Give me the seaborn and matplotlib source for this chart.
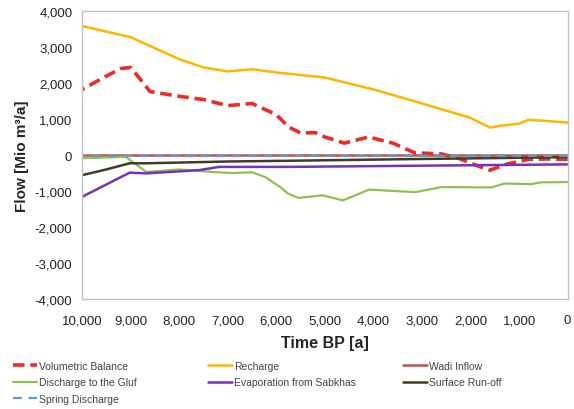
import pandas as pd
import matplotlib
matplotlib.use("Agg")
import matplotlib.pyplot as plt
import seaborn as sns
from matplotlib.ticker import FuncFormatter, MultipleLocator

# ------------------------------------------------
# Data
# ------------------------------------------------

t_vb = [10000, 9500, 9200, 9000, 8800, 8600, 8000, 7500, 7000, 6500, 6000, 5750, 5500,
        5200, 5000, 4600, 4100, 3600, 3150, 2600, 2250, 1800, 1600, 1250, 800, 400, 0]
vb = [1820, 2190, 2400, 2430, 2100, 1760, 1630, 1540, 1370, 1430, 1120, 780, 610,
      620, 500, 330, 500, 330, 60, 30, -90, -330, -420, -250, -120, -110, -120]

t_rc = [10000, 9000, 8000, 7500, 7000, 6500, 6000, 5000, 4000, 3000, 2000,
        1600, 1400, 1000, 800, 500, 0]
rc = [3580, 3270, 2660, 2430, 2320, 2380, 2290, 2150, 1820, 1430, 1030,
      760, 810, 870, 980, 950, 900]

t_wi = [10000, 5000, 0]
wi = [10, 10, 10]

t_dg = [10000, 9100, 8960, 8680, 8000, 7320, 6920, 6500, 6230, 5920, 5760, 5550,
        5040, 4630, 4090, 3140, 2590, 1570, 1300, 760, 550, 0]
dg = [-90, -50, -190, -470, -400, -470, -500, -480, -610, -890, -1070, -1190,
      -1120, -1260, -960, -1030, -890, -900, -790, -810, -760, -750]

t_ev = [10000, 9020, 8680, 7590, 7180, 5760, 0]
ev = [-1160, -490, -510, -420, -330, -330, -260]

t_sr = [10000, 9500, 9020, 8680, 7000, 5760, 3000, 0]
sr = [-560, -400, -230, -230, -180, -160, -110, -60]

t_sd = [10000, 5000, 0]
sd = [-20, -20, -20]

series = [
    ("Volumetric Balance", t_vb, vb, "#EE2A24", (0, (3.2, 1.6)), 2.6),
    ("Recharge", t_rc, rc, "#FFB400", "-", 1.8),
    ("Wadi Inflow", t_wi, wi, "#C0504D", "-", 1.8),
    ("Discharge to the Gluf", t_dg, dg, "#8DC150", "-", 1.6),
    ("Evaporation from Sabkhas", t_ev, ev, "#7334B8", "-", 1.8),
    ("Surface Run-off", t_sr, sr, "#3D3D26", "-", 1.8),
    ("Spring Discharge", t_sd, sd, "#5B9BD5", (0, (4, 3)), 1.6),
]

# ------------------------------------------------
# Plot
# ------------------------------------------------

sns.set_style("white")
plt.rcParams["font.family"] = ["Liberation Sans", "DejaVu Sans"]

fig = plt.figure(figsize=(5.74, 4.10), dpi=100)
ax = fig.add_axes([0.143, 0.268, 0.846, 0.703])

handles = {}
for name, t, v, color, ls, lw in series:
    df = pd.DataFrame({"t": t, "v": v})
    sns.lineplot(data=df, x="t", y="v", ax=ax, color=color, linewidth=lw,
                 linestyle=ls, label=name, legend=False)
    handles[name] = ax.lines[-1]

ax.set_xlim(10000, 0)
ax.set_ylim(-4000, 4000)
ax.xaxis.set_major_locator(MultipleLocator(1000))
ax.yaxis.set_major_locator(MultipleLocator(1000))
fmt = FuncFormatter(lambda v, p: f"{int(v):,}")
ax.xaxis.set_major_formatter(fmt)
ax.yaxis.set_major_formatter(fmt)

for s in ax.spines.values():
    s.set_color("#BCC3CF")
    s.set_linewidth(1.0)

ax.tick_params(axis="both", which="major", direction="out", length=4,
               color="#BCC3CF", labelsize=9.5, labelcolor="#222222")
ax.tick_params(axis="x", pad=7)
ax.tick_params(axis="y", pad=3)

ax.set_xlabel("Time BP [a]", fontsize=11.5, fontweight="bold", labelpad=6)
ax.set_ylabel("Flow [Mio m³/a]", fontsize=11, fontweight="bold", labelpad=4)

# legend: three columns laid out like the original
legend_font = {"family": ["Liberation Sans Narrow", "Liberation Sans"], "size": 7.5}
cols = [
    (["Volumetric Balance", "Discharge to the Gluf", "Spring Discharge"], 0.022),
    (["Recharge", "Evaporation from Sabkhas"], 0.362),
    (["Wadi Inflow", "Surface Run-off"], 0.702),
]
for names, x0 in cols:
    leg = fig.legend([handles[n] for n in names], names, loc="upper left",
                     bbox_to_anchor=(x0, 0.117), frameon=False, prop=legend_font,
                     handlelength=2.3, handletextpad=0.2, labelspacing=0.6,
                     borderaxespad=0, borderpad=0)
    for txt in leg.get_texts():
        txt.set_color("#444444")

fig.savefig("out.png", dpi=100)
plt.close()
